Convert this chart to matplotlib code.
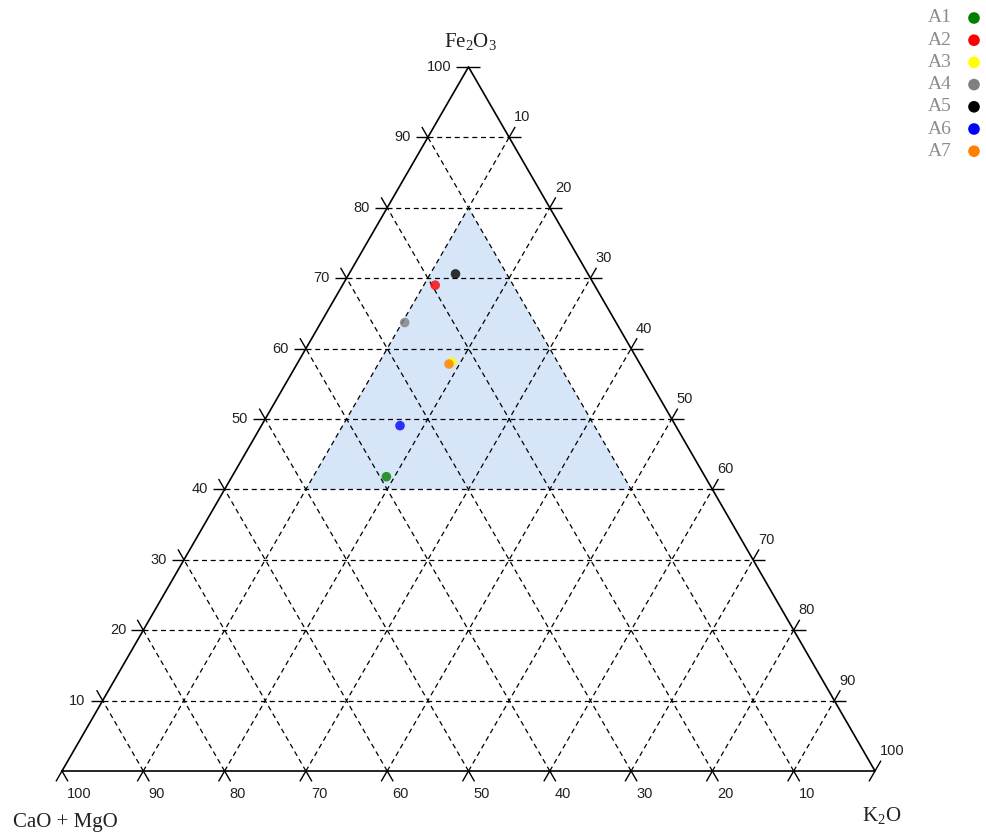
import numpy as np
import matplotlib
matplotlib.use('Agg')
import matplotlib.pyplot as plt

plt.rcParams['mathtext.fontset'] = 'custom'
plt.rcParams['mathtext.rm'] = 'Liberation Serif'
plt.rcParams['mathtext.it'] = 'Liberation Serif'

# ---- data ----
names = ['A1', 'A2', 'A3', 'A4', 'A5', 'A6', 'A7']
fe2o3 = [41.8, 69.0, 58.1, 63.7, 70.6, 49.05, 57.8]
k2o = [19.0, 11.4, 18.9, 10.3, 13.1, 17.05, 18.7]
cao_mgo = [100 - f - k for f, k in zip(fe2o3, k2o)]
colors = ['#008000', '#ff0000', '#ffff00', '#808080', '#000000', '#0000ff', '#ff8000']

# shaded field (Fe2O3, K2O, CaO+MgO)
field_fe = [80, 40, 40]
field_k = [10, 10, 50]

grid_levels = [10, 20, 30, 40, 50, 60, 70, 80, 90]
tick_levels = [10, 20, 30, 40, 50, 60, 70, 80, 90, 100]

S3 = np.sqrt(3) / 2
PX = 1 / 813.0  # one pixel in data units


def tern(fe, k):
    fe = np.asarray(fe, float)
    k = np.asarray(k, float)
    return (k + fe / 2) / 100.0, fe / 100.0 * S3


fig = plt.figure(figsize=(9.87, 8.34), dpi=100)
ax = fig.add_axes([0, 0, 1, 1])
ax.set_xlim(-62 * PX, 925 * PX)
ax.set_ylim(-63 * PX, 771 * PX)
ax.axis('off')

# shaded field
fx, fy = tern(field_fe, field_k)
ax.fill(fx, fy, color='#d6e6f8', zorder=1, lw=0)

dash = (0, (4, 3))
gkw = dict(color='black', lw=0.9, ls=dash, zorder=2)
for g in grid_levels:
    x, y = tern([g, g], [0, 100 - g])
    ax.plot(x, y, **gkw)
    x, y = tern([0, 100 - g], [g, g])
    ax.plot(x, y, **gkw)
    x, y = tern([0, 100 - g], [100 - g, 0])
    ax.plot(x, y, **gkw)

# triangle edges
ex, ey = tern([0, 0, 100, 0], [0, 100, 0, 0])
ax.plot(ex, ey, color='black', lw=1.2, zorder=3)

# outward tick marks
TL = 12 * PX
tkw = dict(color='black', lw=1.0, zorder=3, solid_capstyle='butt')


def tick(p, d):
    ax.plot([p[0], p[0] + d[0] * TL], [p[1], p[1] + d[1] * TL], **tkw)


left_h = (-1.0, 0.0)
left_s = (-0.5, S3)
right_h = (1.0, 0.0)
right_s = (0.5, S3)
bot_l = (-0.5, -S3)
bot_r = (0.5, -S3)

tfs = 10.5
lkw = dict(fontsize=tfs, family='Liberation Sans', color='#222222', va='center')
for t in tick_levels:
    # left edge: Fe2O3 = t
    px_, py_ = tern(t, 0)
    tick((px_, py_), left_h)
    if t < 100:
        tick((px_, py_), left_s)
    ax.text(px_ - 17 * PX, py_, str(t), ha='right', **lkw)
    # right edge: K2O = t
    px_, py_ = tern(100 - t, t)
    if t < 100:
        tick((px_, py_), right_h)
    tick((px_, py_), right_s)
    ax.text(px_ + 5 * PX, py_ + 20 * PX, str(t), ha='left', **lkw)
    # bottom edge: CaO+MgO = t
    px_, py_ = tern(0, 100 - t)
    tick((px_, py_), bot_l)
    tick((px_, py_), bot_r)
    ax.text(px_ + 5 * PX, py_ - 23 * PX, str(t), ha='left', **lkw)

# apex (right edge K2O = 0) and bottom-right vertex
p0 = tern(100, 0)
tick(p0, right_h)
p1 = tern(0, 100)
tick(p1, bot_l)

# axis titles
ttl = dict(fontsize=15, family='Liberation Serif', color='#222222', ha='center', va='center')
tx, ty = tern(100, 0)
ax.text(tx + 2 * PX, ty + 25 * PX, r'$\mathrm{Fe_2O_3}$', **ttl)
ax.text(3 * PX, -51 * PX, 'CaO + MgO', **ttl)
ax.text(820 * PX, -44 * PX, r'$\mathrm{K_2O}$', **ttl)

# data points
xs, ys = tern(fe2o3, k2o)
for x, y, c in zip(xs, ys, colors):
    ax.scatter([x], [y], s=48, color=c, alpha=0.8, edgecolors='none', zorder=5)

# legend
for i, (n, c) in enumerate(zip(names, colors)):
    yfig = 1 - (18 + 22.2 * i) / 834.0
    fig.text(952 / 987.0, yfig, n, ha='right', va='center', fontsize=14,
             family='Liberation Serif', color='#8c8c8c')
    ax.scatter([(974 - 62) * PX], [(771 - 18 - 22.2 * i) * PX], s=70, color=c,
               edgecolors='none', zorder=5, clip_on=False)

fig.savefig('out.png', dpi=100)
